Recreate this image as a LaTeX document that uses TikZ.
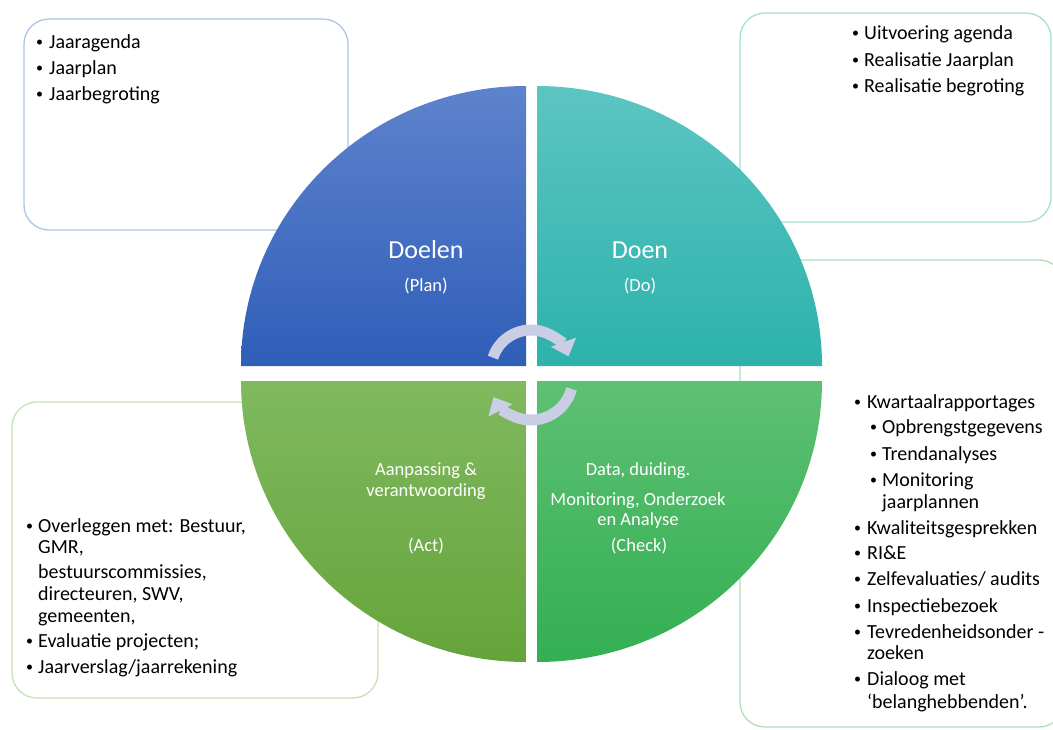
\documentclass[tikz,border=0pt]{standalone}
\usepackage{fontspec}
\setmainfont{Carlito}
\usepackage{tikz}
\usetikzlibrary{arrows.meta}

\definecolor{planTop}{HTML}{5E83CD}
\definecolor{planBot}{HTML}{2F5EB8}
\definecolor{doTop}{HTML}{5CC5C1}
\definecolor{doBot}{HTML}{2DB2AC}
\definecolor{actTop}{HTML}{80B95F}
\definecolor{actBot}{HTML}{65A43A}
\definecolor{checkTop}{HTML}{5EC073}
\definecolor{checkBot}{HTML}{33AF52}
\definecolor{kaderPlan}{HTML}{AFC3E8}
\definecolor{kaderDo}{HTML}{A3DEDA}
\definecolor{kaderCheck}{HTML}{ADDFB9}
\definecolor{kaderAct}{HTML}{C6E1B6}
\definecolor{pijlkleur}{HTML}{C9CEE4}

\tikzset{
  kader/.style={line width=1.3pt, rounded corners=25pt},
  item/.style={anchor=base west, inner sep=0pt, font=\fontsize{20}{24}\selectfont},
  bolletje/.style={anchor=base west, inner sep=0pt, font=\fontsize{14}{14}\selectfont},
  kwarttekst/.style={anchor=base, inner sep=0pt, white, font=\fontsize{18.5}{22}\selectfont},
  kopje/.style={kwarttekst, font=\fontsize{26}{30}\selectfont},
  pijl/.style={line width=11pt, draw=pijlkleur, -{Triangle[width=26pt,length=15pt]}},
}
\newcommand{\bol}{\raisebox{1.6pt}{\textbullet}}

\begin{document}
\begin{tikzpicture}[x=1pt,y=-1pt]
    \clip (0,0) rectangle (1053,729);
    \useasboundingbox (0,0) rectangle (1053,729);
    % kaders achter de cirkel
    \draw[kader, draw=kaderPlan] (24,19) rectangle (348,230);
    \draw[kader, draw=kaderDo] (740,13) rectangle (1051,222);
    \draw[kader, draw=kaderCheck] (740,260) rectangle (1064,727);
    \draw[kader, draw=kaderAct] (12,402) rectangle (378,698);
    % vier kwarten
    \shade[top color=planTop, bottom color=planBot] (526,366) -- (241,366) arc[start angle=180, end angle=270, x radius=285, y radius=280] -- cycle;
    \shade[top color=doTop, bottom color=doBot] (537,366) -- (537,86) arc[start angle=270, end angle=360, x radius=285, y radius=280] -- cycle;
    \shade[top color=checkTop, bottom color=checkBot] (537,381) -- (822,381) arc[start angle=0, end angle=90, x radius=285, y radius=281] -- cycle;
    \shade[top color=actTop, bottom color=actBot] (526,381) -- (526,662) arc[start angle=90, end angle=180, x radius=285, y radius=281] -- cycle;
    % teksten in de kwarten
    \node[kopje] (doelen) at (426,258) {Doelen};
    \node[kwarttekst] (plan) at (426,291) {(Plan)};
    \node[kopje] (doen) at (640,258) {Doen};
    \node[kwarttekst] (do) at (640,291) {(Do)};
    \node[kwarttekst] (aanpassing) at (426,475) {Aanpassing \&};
    \node[kwarttekst] (verantw) at (426,496) {verantwoording};
    \node[kwarttekst] (act) at (426,551) {(Act)};
    \node[kwarttekst] (data) at (638,475) {Data, duiding.};
    \node[kwarttekst] (monitoring) at (638,505) {Monitoring, Onderzoek};
    \node[kwarttekst] (analyse) at (638,525) {en Analyse};
    \node[kwarttekst] (check) at (639,551) {(Check)};
    % kringloop pijlen
    \draw[pijl] (531,370) ++(198:40) arc[start angle=198, end angle=340, radius=40];
    \draw[pijl] (531,378) ++(15:42) arc[start angle=15, end angle=153, radius=42];
    % plan
    \node[bolletje] (bpl1) at (36,48) {\bol};
    \node[item] (jaaragenda) at (49,48) {Jaaragenda};
    \node[bolletje] (bpl2) at (36,74) {\bol};
    \node[item] (jaarplan) at (49,74) {Jaarplan};
    \node[bolletje] (bpl3) at (36,100) {\bol};
    \node[item] (jaarbegroting) at (49,100) {Jaarbegroting};
    % do
    \node[bolletje] (bdo1) at (852,39) {\bol};
    \node[item] (uitvoering) at (864,39) {Uitvoering agenda};
    \node[bolletje] (bdo2) at (852,66) {\bol};
    \node[item] (realplan) at (864,66) {Realisatie Jaarplan};
    \node[bolletje] (bdo3) at (852,92) {\bol};
    \node[item] (realbegr) at (864,92) {Realisatie begroting};
    % check
    \node[bolletje] (bch1) at (854,408) {\bol};
    \node[item] (kwartaal) at (867,408) {Kwartaalrapportages};
    \node[bolletje] (bch2) at (870,433) {\bol};
    \node[item] (opbrengst) at (882,433) {Opbrengstgegevens};
    \node[bolletje] (bch3) at (870,460) {\bol};
    \node[item] (trend) at (882,460) {Trendanalyses};
    \node[bolletje] (bch4) at (870,486) {\bol};
    \node[item] (monit) at (882,486) {Monitoring};
    \node[item] (jaarplannen) at (882,508) {jaarplannen};
    \node[bolletje] (bch5) at (854,534) {\bol};
    \node[item] (kwaliteit) at (867,534) {Kwaliteitsgesprekken};
    \node[bolletje] (bch6) at (854,559) {\bol};
    \node[item] (rie) at (867,559) {RI\&E};
    \node[bolletje] (bch7) at (854,585) {\bol};
    \node[item] (zelfeval) at (867,585) {Zelfevaluaties/ audits};
    \node[bolletje] (bch8) at (854,612) {\bol};
    \node[item] (inspectie) at (867,612) {Inspectiebezoek};
    \node[bolletje] (bch9) at (854,638) {\bol};
    \node[item] (tevreden) at (867,638) {Tevredenheidsonder -};
    \node[item] (zoeken) at (867,659) {zoeken};
    \node[bolletje] (bch10) at (854,685) {\bol};
    \node[item] (dialoog) at (867,685) {Dialoog met};
    \node[item] (belang) at (867,708) {‘belanghebbenden’.};
    % act
    \node[bolletje] (bac1) at (26,532) {\bol};
    \node[item] (overleg) at (38,532) {Overleggen met: Bestuur,};
    \node[item] (gmr) at (38,553) {GMR,};
    \node[item] (bestuurscie) at (38,578) {bestuurscommissies,};
    \node[item] (directeuren) at (38,600) {directeuren, SWV,};
    \node[item] (gemeenten) at (38,622) {gemeenten,};
    \node[bolletje] (bac2) at (26,647) {\bol};
    \node[item] (evaluatie) at (38,647) {Evaluatie projecten;};
    \node[bolletje] (bac3) at (26,673) {\bol};
    \node[item] (jaarverslag) at (38,673) {Jaarverslag/jaarrekening};
\end{tikzpicture}
\end{document}
